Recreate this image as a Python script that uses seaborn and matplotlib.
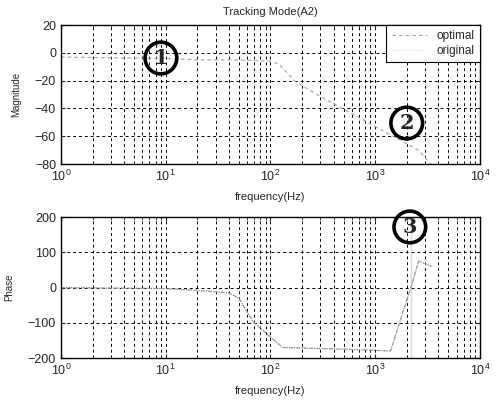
import matplotlib
matplotlib.use('Agg')
import matplotlib.pyplot as plt
import numpy as np
import pandas as pd
import seaborn as sns

# magnitude response (dB)
mag_freq = [1, 3, 10, 20, 50, 100, 120, 175, 310, 760, 2570, 3300, 4000]
mag_db = [-3, -3.5, -4, -5, -5, -6, -8, -21, -32, -48, -70, -79, -85]

# phase response (deg)
ph_freq = [1, 10, 20, 40, 50, 60, 70, 130, 500, 1400, 2190, 2190, 2600, 3500]
ph_deg = [0, -3, -8, -15, -30, -70, -100, -170, -175, -180, -200, 200, 75, 60]

legend_labels = ['optimal', 'original']
mag_ticks = [20, 0, -20, -40, -60, -80]
ph_ticks = [200, 100, 0, -100, -200]

sns.set_style('white')
plt.rcParams['font.family'] = ['Liberation Sans', 'DejaVu Sans']
plt.rcParams['mathtext.fontset'] = 'custom'
plt.rcParams['mathtext.rm'] = 'Liberation Sans'

fig = plt.figure(figsize=(4.97, 4.05), dpi=100)
ax1 = fig.add_axes([0.1227, 0.595, 0.843, 0.343])
ax2 = fig.add_axes([0.1227, 0.116, 0.843, 0.348])

mag = pd.DataFrame({'f': mag_freq, 'db': mag_db})
ph = pd.DataFrame({'f': ph_freq, 'deg': ph_deg})

sns.lineplot(data=mag, x='f', y='db', ax=ax1, color='#a0a0a0', lw=0.8,
             ls=(0, (3, 3)), sort=False, label=legend_labels[0])
sns.lineplot(data=mag, x='f', y='db', ax=ax1, color='#c8c8c8', lw=0.6,
             ls=(0, (1, 3)), sort=False, label=legend_labels[1])
sns.lineplot(data=ph, x='f', y='deg', ax=ax2, color='#b0b0b0', lw=0.8,
             ls=(0, (3, 3)), sort=False)
sns.lineplot(data=ph, x='f', y='deg', ax=ax2, color='#888888', lw=0.9,
             ls=(0, (1, 1)), sort=False)

for ax, yt, lab in [(ax1, mag_ticks, 'Magnitude'), (ax2, ph_ticks, 'Phase')]:
    ax.set_xscale('log')
    ax.set_xlim(1, 1e4)
    ax.set_yticks(yt)
    ax.set_ylim(min(yt), max(yt))
    ax.grid(True, which='both', color='black', ls=(0, (3, 3)), lw=0.7)
    ax.tick_params(which='both', direction='in', labelsize=9, length=3,
                   bottom=True, left=True, top=True, right=True)
    ax.tick_params(which='minor', length=2)
    ax.set_xlabel('frequency(Hz)', fontsize=8, labelpad=6)
    ax.set_ylabel(lab, fontsize=7, labelpad=10)
    for s in ax.spines.values():
        s.set_color('black')
        s.set_linewidth(1.0)

ax1.set_title('Tracking Mode(A2)', fontsize=8, pad=7)
leg = ax1.legend(loc='upper right', fontsize=8.5, frameon=True, fancybox=False,
                 edgecolor='black', framealpha=1, borderaxespad=0,
                 handlelength=3.0, labelspacing=0.2, borderpad=0.45)
leg.get_frame().set_linewidth(0.8)
ax2.legend_ = None

circ = dict(boxstyle='circle,pad=0.28', fc='none', ec='black', lw=2.6)
ax1.text(9, -3.7, '1', fontsize=15, fontweight='bold', family='DejaVu Serif',
         ha='center', va='center', bbox=circ)
ax1.text(2000, -50.5, '2', fontsize=15, fontweight='bold', family='DejaVu Serif',
         ha='center', va='center', bbox=circ)
ax2.text(2140, 172, '3', fontsize=15, fontweight='bold', family='DejaVu Serif',
         ha='center', va='center', bbox=circ, clip_on=False)

fig.savefig('out.png', dpi=100)
